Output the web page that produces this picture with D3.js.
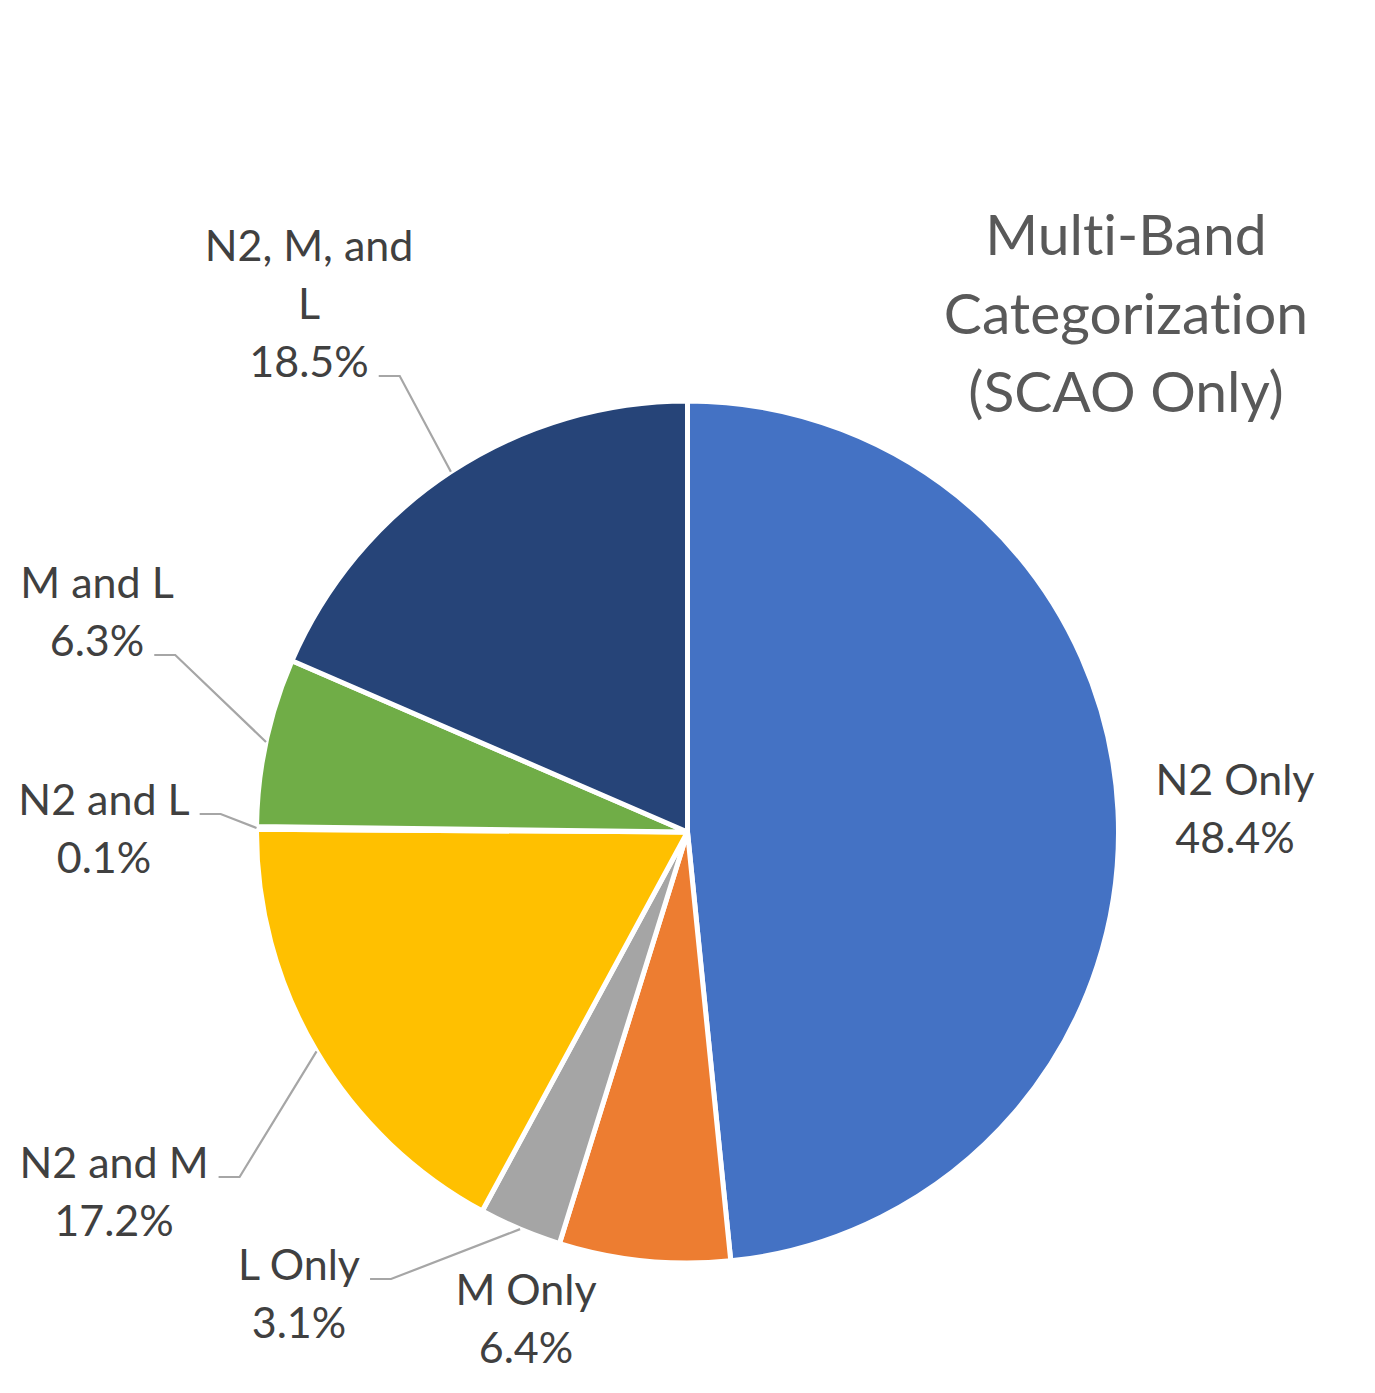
<!DOCTYPE html>
<html>
<head>
<meta charset="utf-8">
<script src="https://cdn.jsdelivr.net/npm/d3@7"></script>
<style>
  html, body { margin: 0; padding: 0; background: #ffffff; }
  svg { display: block; }
  text { font-variant-ligatures: none; font-feature-settings: "liga" 0, "clig" 0; }
</style>
</head>
<body>
<svg id="chart" width="1375" height="1393"></svg>
<script>
// ---- data ----
const categories = ["N2 Only", "M Only", "L Only", "N2 and M", "N2 and L", "M and L", "N2, M, and L"];
const values = [48.4, 6.4, 3.1, 17.2, 0.1, 6.3, 18.5];
const labelLines = [
  ["N2 Only"], ["M Only"], ["L Only"], ["N2 and M"], ["N2 and L"], ["M and L"], ["N2, M, and", "L"]
];
const titleLines = ["Multi-Band", "Categorization", "(SCAO Only)"];

// ---- style / layout ----
const colors = ["#4472C4", "#ED7D31", "#A5A5A5", "#FFC000", "#5B9BD5", "#70AD47", "#264478"];
const W = 1375, H = 1393;
const cx = 687.5, cy = 832, R = 431;
const fontFamily = "Lato, 'Open Sans', sans-serif";
const labelSize = 43, lineH = 58;
// label layout: centre x, first baseline y, leader? and line index the leader attaches to
const labelLayout = [
  { x: 1235, y: 795, leader: false },
  { x: 526, y: 1305, leader: false },
  { x: 299, y: 1280, leader: true, attach: 0 },
  { x: 114, y: 1178, leader: true, attach: 0 },
  { x: 104, y: 815, leader: true, attach: 0 },
  { x: 97, y: 598, leader: true, attach: 1 },
  { x: 309, y: 261, leader: true, attach: 2 }
];

const svg = d3.select("#chart");

const pie = d3.pie().sort(null).value(d => d)(values);
const arc = d3.arc().innerRadius(0).outerRadius(R);

const g = svg.append("g").attr("transform", `translate(${cx},${cy})`);
g.selectAll("path.slice")
  .data(pie)
  .join("path")
  .attr("class", "slice")
  .attr("d", arc)
  .attr("fill", (d, i) => colors[i])
  .attr("stroke", "#ffffff")
  .attr("stroke-width", 5)
  .attr("stroke-linejoin", "round");

// title
const title = svg.append("text")
  .attr("text-anchor", "middle")
  .attr("font-family", fontFamily)
  .attr("font-size", 57)
  .attr("fill", "#595959");
const titleBase = [255, 334, 412];
titleLines.forEach((t, i) => {
  title.append("tspan").attr("x", 1126).attr("y", titleBase[i]).text(t);
});

// labels
const labels = svg.append("g");
pie.forEach((d, i) => {
  const lay = labelLayout[i];
  const lines = labelLines[i].concat([values[i].toFixed(1) + "%"]);
  const t = labels.append("text")
    .attr("text-anchor", "middle")
    .attr("font-family", fontFamily)
    .attr("font-size", labelSize)
    .attr("fill", "#404040");
  const spans = lines.map((ln, k) =>
    t.append("tspan").attr("x", lay.x).attr("y", lay.y + k * lineH).text(ln)
  );
  if (lay.leader) {
    const span = spans[lay.attach];
    const w = span.node().getComputedTextLength();
    const x0 = lay.x + w / 2 + 10;
    const y0 = lay.y + lay.attach * lineH - 1;
    const mid = (d.startAngle + d.endAngle) / 2;
    const px = cx + R * Math.sin(mid);
    const py = cy - R * Math.cos(mid);
    const line = d3.line();
    labels.insert("path", ":first-child")
      .attr("d", line([[x0, y0], [x0 + 21, y0], [px, py]]))
      .attr("fill", "none")
      .attr("stroke", "#A6A6A6")
      .attr("stroke-width", 2.2);
  }
});
</script>
</body>
</html>
